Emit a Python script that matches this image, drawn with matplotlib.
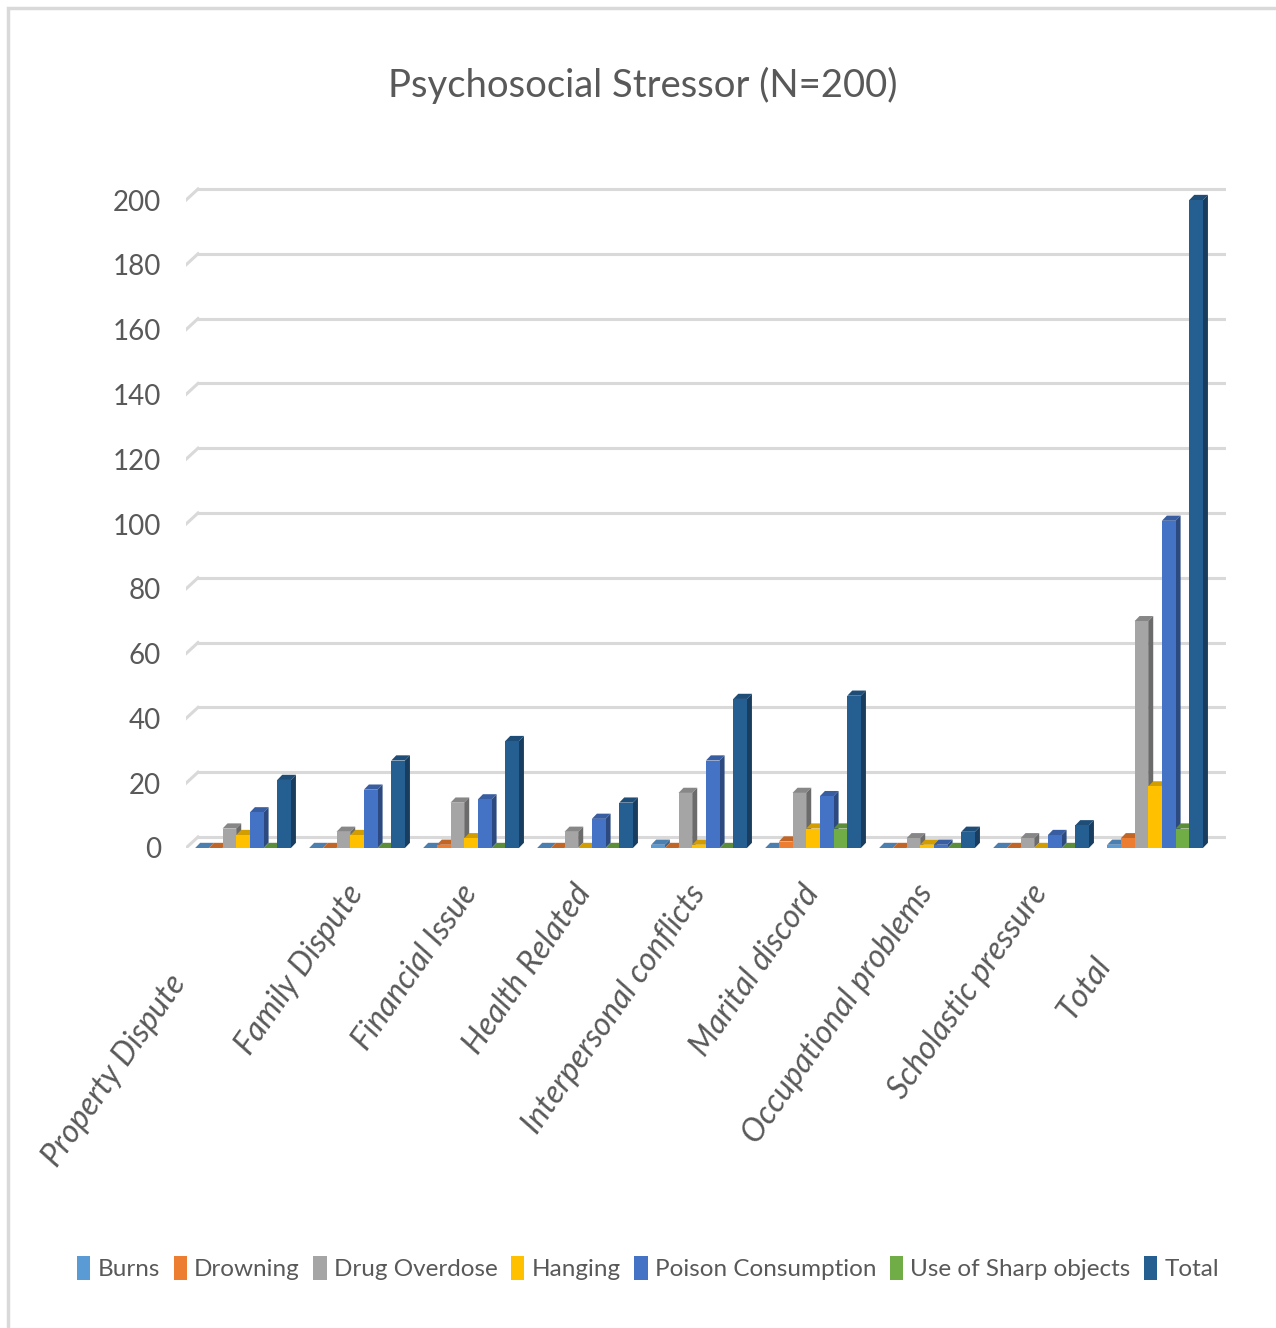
import matplotlib
matplotlib.use("Agg")
import numpy as np
from matplotlib import pyplot as plt
from matplotlib import transforms
from matplotlib.patches import Polygon, Rectangle
from matplotlib.colors import to_rgb

plt.rcParams['font.family'] = ['Lato', 'DejaVu Sans']

categories = ["Property Dispute", "Family Dispute", "Financial Issue", "Health Related",
              "Interpersonal conflicts", "Marital discord", "Occupational problems",
              "Scholastic pressure", "Total"]
series_names = ["Burns", "Drowning", "Drug Overdose", "Hanging", "Poison Consumption",
                "Use of Sharp objects", "Total"]
burns = [0, 0, 0, 0, 1, 0, 0, 0, 1]
drowning = [0, 0, 1, 0, 0, 2, 0, 0, 3]
drug_overdose = [6, 5, 14, 5, 17, 17, 3, 3, 70]
hanging = [4, 4, 3, 0, 1, 6, 1, 0, 19]
poison = [11, 18, 15, 9, 27, 16, 1, 4, 101]
sharp_objects = [0, 0, 0, 0, 0, 6, 0, 0, 6]
total = [21, 27, 33, 14, 46, 47, 5, 7, 200]
series = [burns, drowning, drug_overdose, hanging, poison, sharp_objects, total]
colors = ["#5B9BD5", "#ED7D31", "#A5A5A5", "#FFC000", "#4472C4", "#70AD47", "#255E91"]

text_color = "#595959"
grid_color = "#D9D9D9"


def shade(c, f):
    return tuple(np.array(to_rgb(c)) * f)


fig = plt.figure(figsize=(12.76, 13.28), dpi=100)
ax = fig.add_axes([0.1458, 0.36145, 0.8148, 0.505])
ax.set_xlim(-0.5, 8.62)
ax.set_ylim(0, 207)
for s in ax.spines.values():
    s.set_visible(False)

# back wall gridlines (pseudo 3d)
wall_dx, wall_dy = 0.105, 3.4
for v in range(0, 201, 20):
    ax.plot([-0.5, -0.5 + wall_dx], [v, v + wall_dy], color=grid_color, lw=2.2, zorder=1)
    ax.plot([-0.5 + wall_dx, 8.5 + wall_dx], [v + wall_dy] * 2, color=grid_color, lw=2.2, zorder=1)

# bars with top / side faces
width = 0.12
bar_dx, bar_dy = 0.044, 1.6
x = np.arange(len(categories))
for j, (vals, col) in enumerate(zip(series, colors)):
    xs = x + (j - 3) * width
    ax.bar(xs, vals, width=width, color=col, zorder=3, linewidth=0)
    for xc, v in zip(xs, vals):
        x0, x1 = xc - width / 2, xc + width / 2
        top = Polygon([(x0, v), (x1, v), (x1 + bar_dx, v + bar_dy), (x0 + bar_dx, v + bar_dy)],
                      closed=True, facecolor=shade(col, 0.82), edgecolor='none', zorder=2)
        side = Polygon([(x1, 0), (x1 + bar_dx, bar_dy), (x1 + bar_dx, v + bar_dy), (x1, v)],
                       closed=True, facecolor=shade(col, 0.65), edgecolor='none', zorder=2)
        ax.add_patch(top)
        ax.add_patch(side)

ax.set_yticks(range(0, 201, 20))
ax.tick_params(axis='y', length=0, pad=18, labelsize=20, labelcolor=text_color)
ax.set_xticks([])

# rotated category labels, some pushed further along their own direction
label_shift = [110, 0, 0, 0, 0, 0, 0, 0, 88]
ang = np.deg2rad(55)
for i, (cat, sh) in enumerate(zip(categories, label_shift)):
    tr = transforms.offset_copy(ax.transData, fig=fig, x=-sh * np.cos(ang), y=-40 - sh * np.sin(ang),
                                units='dots')
    ax.text(i, 0, cat, transform=tr, rotation=55, rotation_mode='anchor', ha='right', va='center',
            fontsize=23, style='italic', color=text_color)

fig.text(0.504, 0.936, "Psychosocial Stressor (N=200)", ha='center', va='center',
         fontsize=27.5, color=text_color)

handles = [Rectangle((0, 0), 1, 1, facecolor=c, edgecolor='none') for c in colors]
fig.legend(handles, series_names, loc='center', bbox_to_anchor=(0.508, 1 - 1268 / 1328), ncol=7,
           frameon=False, fontsize=17.5, labelcolor=text_color, handlelength=0.55, handleheight=1.2,
           handletextpad=0.3, columnspacing=0.55, borderaxespad=0)

# chart border
fig.patches.append(Rectangle((8 / 1276, -0.05), 1.2, 1.044, transform=fig.transFigure,
                             fill=False, edgecolor=grid_color, lw=2.5))

fig.savefig("out.png", dpi=100)
